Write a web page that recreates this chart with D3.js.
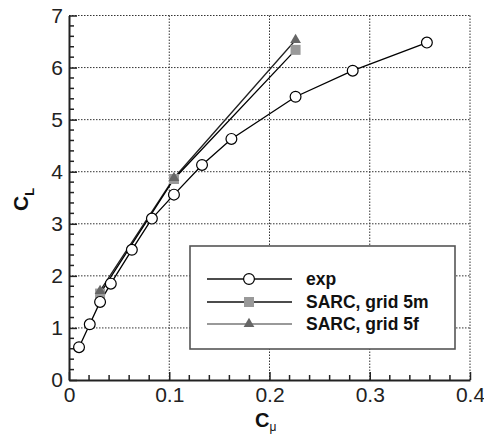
<!DOCTYPE html>
<html>
<head>
<meta charset="utf-8">
<script src="https://cdn.jsdelivr.net/npm/d3@7"></script>
<style>
  body { margin: 0; background: #fff; }
  svg { display: block; font-family: "Liberation Sans", Arial, sans-serif; }
</style>
</head>
<body>
<div id="chart"></div>
<script>
// Experimental data (open circles)
const expCmu = [0.010, 0.0207, 0.031, 0.0417, 0.0627, 0.0827, 0.1047, 0.1327, 0.162, 0.226, 0.283, 0.357];
const expCL  = [0.63, 1.07, 1.50, 1.85, 2.50, 3.10, 3.56, 4.13, 4.63, 5.44, 5.94, 6.48];

// SARC, grid 5m (grey squares)
const gridMCmu = [0.031, 0.1047, 0.226];
const gridMCL  = [1.66, 3.86, 6.34];

// SARC, grid 5f (dark triangles)
const gridFCmu = [0.031, 0.1047, 0.226];
const gridFCL  = [1.71, 3.88, 6.53];

const xTicks = [0, 0.1, 0.2, 0.3, 0.4];
const yTicks = [0, 1, 2, 3, 4, 5, 6, 7];
const legendLabels = ["exp", "SARC, grid 5m", "SARC, grid 5f"];

const width = 484, height = 436;
const margin = {left: 69, right: 14, top: 15.5, bottom: 56};

const svg = d3.select("#chart").append("svg")
    .attr("width", width)
    .attr("height", height);

const x = d3.scaleLinear().domain([0, 0.4]).range([margin.left, width - margin.right]);
const y = d3.scaleLinear().domain([0, 7]).range([height - margin.bottom, margin.top]);

// Dotted grid (also forms top and right frame)
svg.append("g")
    .selectAll("line")
    .data(xTicks.slice(1))
    .join("line")
    .attr("x1", d => x(d)).attr("x2", d => x(d))
    .attr("y1", y(0)).attr("y2", y(7))
    .attr("stroke", "#333").attr("stroke-width", 1).attr("stroke-dasharray", "1.5,1.5");

svg.append("g")
    .selectAll("line")
    .data(yTicks.slice(1))
    .join("line")
    .attr("x1", x(0)).attr("x2", x(0.4))
    .attr("y1", d => y(d)).attr("y2", d => y(d))
    .attr("stroke", "#333").attr("stroke-width", 1).attr("stroke-dasharray", "1.5,1.5");

// Axes with inward ticks
const xMinor = d3.range(0, 0.4001, 0.02).filter(v => Math.abs(v * 10 - Math.round(v * 10)) > 1e-6);
const yMinor = d3.range(0, 7.001, 0.2).filter(v => Math.abs(v - Math.round(v)) > 1e-6);

const xAxis = svg.append("g").attr("transform", `translate(0,${y(0)})`);
xAxis.call(d3.axisBottom(x).tickValues(xTicks).tickSizeInner(-8).tickSizeOuter(0)
    .tickFormat(d => d === 0 ? "0" : d3.format(".1f")(d)).tickPadding(7));
xAxis.selectAll(".tick line").attr("stroke", "#222").attr("stroke-width", 1.5);
xAxis.selectAll(".tick text").attr("font-size", 21).attr("fill", "#222").attr("font-family", "Liberation Sans, Arial, sans-serif");
xAxis.select(".domain").attr("stroke", "#222").attr("stroke-width", 2);
xAxis.append("g").selectAll("line").data(xMinor).join("line")
    .attr("x1", d => x(d)).attr("x2", d => x(d))
    .attr("y1", 0).attr("y2", -5)
    .attr("stroke", "#222").attr("stroke-width", 1.5);

const yAxis = svg.append("g").attr("transform", `translate(${x(0)},0)`);
yAxis.call(d3.axisLeft(y).tickValues(yTicks).tickSizeInner(-8).tickSizeOuter(0)
    .tickFormat(d3.format("d")).tickPadding(6));
yAxis.selectAll(".tick line").attr("stroke", "#222").attr("stroke-width", 1.5);
yAxis.selectAll(".tick text").attr("font-size", 21).attr("fill", "#222").attr("font-family", "Liberation Sans, Arial, sans-serif");
yAxis.select(".domain").attr("stroke", "#222").attr("stroke-width", 2);
yAxis.append("g").selectAll("line").data(yMinor).join("line")
    .attr("x1", 0).attr("x2", 5)
    .attr("y1", d => y(d)).attr("y2", d => y(d))
    .attr("stroke", "#222").attr("stroke-width", 1.5);

// Axis titles
const xt = svg.append("text")
    .attr("x", 255).attr("y", 427)
    .attr("font-size", 20).attr("font-weight", "bold").attr("fill", "#111");
xt.append("tspan").text("C");
xt.append("tspan").attr("font-size", 12).attr("font-weight", "normal").attr("dy", 4).text("μ");

const yt = svg.append("text")
    .attr("transform", `translate(28,211) rotate(-90)`)
    .attr("font-size", 21).attr("font-weight", "bold").attr("fill", "#111");
yt.append("tspan").text("C");
yt.append("tspan").attr("font-size", 13).attr("dy", 6).text("L");

// Series
const line = d3.line().x(d => x(d[0])).y(d => y(d[1]));
const exp = d3.zip(expCmu, expCL);
const gm = d3.zip(gridMCmu, gridMCL);
const gf = d3.zip(gridFCmu, gridFCL);

svg.append("path").datum(gf).attr("d", line).attr("fill", "none").attr("stroke", "#222").attr("stroke-width", 1.3);
svg.append("path").datum(gm).attr("d", line).attr("fill", "none").attr("stroke", "#000").attr("stroke-width", 1.3);
svg.append("path").datum(exp).attr("d", line).attr("fill", "none").attr("stroke", "#000").attr("stroke-width", 1.3);

const tri = d3.symbol().type(d3.symbolTriangle).size(50);

svg.append("g").selectAll("rect").data(gm).join("rect")
    .attr("x", d => x(d[0]) - 5).attr("y", d => y(d[1]) - 5)
    .attr("width", 10).attr("height", 10).attr("fill", "#999");

svg.append("g").selectAll("path").data(gf).join("path")
    .attr("d", tri)
    .attr("transform", d => `translate(${x(d[0])},${y(d[1])})`)
    .attr("fill", "#666");

svg.append("g").selectAll("circle").data(exp).join("circle")
    .attr("cx", d => x(d[0])).attr("cy", d => y(d[1])).attr("r", 5.4)
    .attr("fill", "#fff").attr("stroke", "#000").attr("stroke-width", 1.2);

// Legend
const lg = svg.append("g");
lg.append("rect").attr("x", 190).attr("y", 246).attr("width", 265).attr("height", 103)
    .attr("fill", "#fff").attr("stroke", "#555").attr("stroke-width", 1.6);

const rows = [279, 302, 324];
const lineCols = ["#111", "#111", "#777"];
legendLabels.forEach((label, i) => {
    const cy = rows[i];
    lg.append("line").attr("x1", 207).attr("x2", 292).attr("y1", cy).attr("y2", cy)
        .attr("stroke", lineCols[i]).attr("stroke-width", 1.3);
    if (i === 0) {
        lg.append("circle").attr("cx", 249).attr("cy", cy).attr("r", 5.4)
            .attr("fill", "#fff").attr("stroke", "#000").attr("stroke-width", 1.2);
    } else if (i === 1) {
        lg.append("rect").attr("x", 244).attr("y", cy - 5).attr("width", 10).attr("height", 10).attr("fill", "#999");
    } else {
        lg.append("path").attr("d", tri).attr("transform", `translate(249,${cy})`).attr("fill", "#666");
    }
    lg.append("text").attr("x", 306).attr("y", cy + 6)
        .attr("font-size", 17.5).attr("font-weight", "bold").attr("fill", "#111")
        .text(label);
});
</script>
</body>
</html>
